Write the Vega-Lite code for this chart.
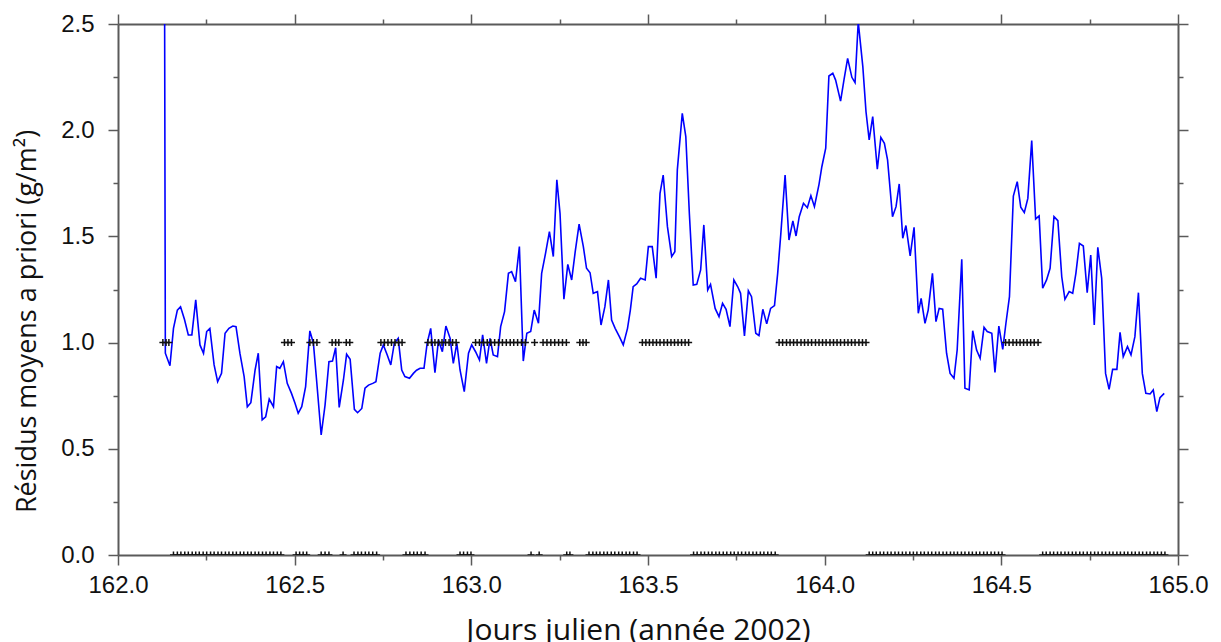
{
"$schema": "https://vega.github.io/schema/vega-lite/v6.json",
"width": 1060, "height": 531,
"autosize": {"type": "none"},
"padding": {"left": 118, "top": 24, "right": 43, "bottom": 87},
"background": "white",
"view": {"stroke": null},
"config": {"font": "Liberation Sans", "axis": {"grid": false, "labelFlush": false, "labelOverlap": false, "domainColor": "#5a5a5a", "domainWidth": 2, "tickColor": "#5a5a5a", "tickWidth": 1.5, "labelColor": "#111", "titleColor": "#111", "titleFontWeight": "normal"}},
"datasets": {
"series": [
{"day":162.132,"residual":2.5},{"day":162.134,"residual":0.950},{"day":162.147,"residual":0.891},{"day":162.157,"residual":1.067},{"day":162.168,"residual":1.153},{"day":162.177,"residual":1.169},{"day":162.188,"residual":1.110},{"day":162.199,"residual":1.036},{"day":162.209,"residual":1.036},{"day":162.220,"residual":1.201},{"day":162.232,"residual":0.989},{"day":162.242,"residual":0.950},{"day":162.251,"residual":1.052},{"day":162.260,"residual":1.067},{"day":162.272,"residual":0.895},{"day":162.282,"residual":0.816},{"day":162.293,"residual":0.855},{"day":162.303,"residual":1.044},{"day":162.314,"residual":1.067},{"day":162.325,"residual":1.078},{"day":162.334,"residual":1.075},{"day":162.345,"residual":0.950},{"day":162.357,"residual":0.840},{"day":162.366,"residual":0.698},{"day":162.376,"residual":0.717},{"day":162.388,"residual":0.871},{"day":162.397,"residual":0.950},{"day":162.408,"residual":0.636},{"day":162.418,"residual":0.651},{"day":162.428,"residual":0.734},{"day":162.440,"residual":0.698},{"day":162.449,"residual":0.887},{"day":162.458,"residual":0.879},{"day":162.468,"residual":0.910},{"day":162.479,"residual":0.808},{"day":162.491,"residual":0.761},{"day":162.501,"residual":0.714},{"day":162.510,"residual":0.667},{"day":162.520,"residual":0.698},{"day":162.531,"residual":0.793},{"day":162.543,"residual":1.055},{"day":162.553,"residual":0.997},{"day":162.562,"residual":0.824},{"day":162.575,"residual":0.565},{"day":162.586,"residual":0.706},{"day":162.597,"residual":0.910},{"day":162.607,"residual":0.913},{"day":162.616,"residual":0.976},{"day":162.626,"residual":0.695},{"day":162.638,"residual":0.824},{"day":162.647,"residual":0.945},{"day":162.657,"residual":0.921},{"day":162.669,"residual":0.686},{"day":162.678,"residual":0.670},{"day":162.690,"residual":0.690},{"day":162.699,"residual":0.785},{"day":162.709,"residual":0.800},{"day":162.721,"residual":0.808},{"day":162.730,"residual":0.816},{"day":162.742,"residual":0.950},{"day":162.751,"residual":0.989},{"day":162.762,"residual":0.942},{"day":162.772,"residual":0.895},{"day":162.782,"residual":0.997},{"day":162.793,"residual":1.020},{"day":162.803,"residual":0.871},{"day":162.812,"residual":0.840},{"day":162.825,"residual":0.832},{"day":162.836,"residual":0.855},{"day":162.845,"residual":0.870},{"day":162.855,"residual":0.879},{"day":162.866,"residual":0.879},{"day":162.875,"residual":0.997},{"day":162.885,"residual":1.067},{"day":162.897,"residual":0.858},{"day":162.907,"residual":1.012},{"day":162.918,"residual":0.957},{"day":162.928,"residual":1.078},{"day":162.940,"residual":1.020},{"day":162.949,"residual":0.902},{"day":162.959,"residual":0.997},{"day":162.968,"residual":0.871},{"day":162.980,"residual":0.769},{"day":162.992,"residual":0.950},{"day":163.001,"residual":0.989},{"day":163.012,"residual":0.957},{"day":163.023,"residual":0.918},{"day":163.032,"residual":1.036},{"day":163.043,"residual":0.902},{"day":163.053,"residual":1.020},{"day":163.062,"residual":0.942},{"day":163.074,"residual":0.934},{"day":163.083,"residual":1.075},{"day":163.094,"residual":1.146},{"day":163.105,"residual":1.326},{"day":163.114,"residual":1.334},{"day":163.125,"residual":1.287},{"day":163.136,"residual":1.452},{"day":163.147,"residual":0.913},{"day":163.157,"residual":1.044},{"day":163.168,"residual":1.052},{"day":163.178,"residual":1.153},{"day":163.190,"residual":1.091},{"day":163.199,"residual":1.326},{"day":163.210,"residual":1.420},{"day":163.221,"residual":1.522},{"day":163.232,"residual":1.405},{"day":163.242,"residual":1.766},{"day":163.251,"residual":1.609},{"day":163.262,"residual":1.204},{"day":163.273,"residual":1.368},{"day":163.284,"residual":1.295},{"day":163.294,"residual":1.428},{"day":163.305,"residual":1.558},{"day":163.317,"residual":1.452},{"day":163.326,"residual":1.350},{"day":163.336,"residual":1.329},{"day":163.345,"residual":1.232},{"day":163.357,"residual":1.240},{"day":163.367,"residual":1.083},{"day":163.378,"residual":1.169},{"day":163.388,"residual":1.295},{"day":163.397,"residual":1.106},{"day":163.407,"residual":1.067},{"day":163.419,"residual":1.028},{"day":163.430,"residual":0.989},{"day":163.442,"residual":1.067},{"day":163.450,"residual":1.153},{"day":163.458,"residual":1.263},{"day":163.468,"residual":1.276},{"day":163.479,"residual":1.303},{"day":163.492,"residual":1.295},{"day":163.501,"residual":1.452},{"day":163.512,"residual":1.452},{"day":163.523,"residual":1.303},{"day":163.534,"residual":1.703},{"day":163.543,"residual":1.789},{"day":163.555,"residual":1.546},{"day":163.567,"residual":1.405},{"day":163.576,"residual":1.428},{"day":163.583,"residual":1.813},{"day":163.597,"residual":2.079},{"day":163.607,"residual":1.970},{"day":163.617,"residual":1.609},{"day":163.628,"residual":1.271},{"day":163.638,"residual":1.274},{"day":163.649,"residual":1.342},{"day":163.658,"residual":1.554},{"day":163.669,"residual":1.248},{"day":163.677,"residual":1.274},{"day":163.690,"residual":1.161},{"day":163.701,"residual":1.122},{"day":163.711,"residual":1.185},{"day":163.721,"residual":1.157},{"day":163.732,"residual":1.075},{"day":163.743,"residual":1.295},{"day":163.754,"residual":1.263},{"day":163.762,"residual":1.232},{"day":163.773,"residual":1.031},{"day":163.784,"residual":1.244},{"day":163.793,"residual":1.216},{"day":163.805,"residual":1.044},{"day":163.814,"residual":1.033},{"day":163.825,"residual":1.157},{"day":163.836,"residual":1.088},{"day":163.847,"residual":1.161},{"day":163.858,"residual":1.174},{"day":163.867,"residual":1.326},{"day":163.876,"residual":1.514},{"day":163.888,"residual":1.789},{"day":163.899,"residual":1.483},{"day":163.910,"residual":1.573},{"day":163.919,"residual":1.502},{"day":163.928,"residual":1.593},{"day":163.940,"residual":1.656},{"day":163.951,"residual":1.635},{"day":163.961,"residual":1.692},{"day":163.971,"residual":1.640},{"day":163.984,"residual":1.745},{"day":163.992,"residual":1.828},{"day":164.003,"residual":1.915},{"day":164.012,"residual":2.255},{"day":164.023,"residual":2.268},{"day":164.031,"residual":2.236},{"day":164.045,"residual":2.137},{"day":164.055,"residual":2.240},{"day":164.065,"residual":2.338},{"day":164.077,"residual":2.249},{"day":164.086,"residual":2.224},{"day":164.095,"residual":2.51},{"day":164.108,"residual":2.299},{"day":164.117,"residual":2.087},{"day":164.126,"residual":1.954},{"day":164.136,"residual":2.064},{"day":164.149,"residual":1.816},{"day":164.159,"residual":1.966},{"day":164.169,"residual":1.938},{"day":164.178,"residual":1.860},{"day":164.192,"residual":1.593},{"day":164.202,"residual":1.640},{"day":164.211,"residual":1.747},{"day":164.221,"residual":1.491},{"day":164.230,"residual":1.551},{"day":164.242,"residual":1.408},{"day":164.253,"residual":1.543},{"day":164.265,"residual":1.138},{"day":164.273,"residual":1.208},{"day":164.284,"residual":1.091},{"day":164.293,"residual":1.153},{"day":164.305,"residual":1.326},{"day":164.315,"residual":1.099},{"day":164.324,"residual":1.161},{"day":164.334,"residual":1.157},{"day":164.345,"residual":0.950},{"day":164.355,"residual":0.855},{"day":164.366,"residual":0.832},{"day":164.375,"residual":0.965},{"day":164.388,"residual":1.392},{"day":164.397,"residual":0.785},{"day":164.409,"residual":0.777},{"day":164.419,"residual":1.056},{"day":164.430,"residual":0.965},{"day":164.440,"residual":0.926},{"day":164.451,"residual":1.072},{"day":164.460,"residual":1.052},{"day":164.473,"residual":1.044},{"day":164.482,"residual":0.860},{"day":164.493,"residual":1.078},{"day":164.504,"residual":0.968},{"day":164.513,"residual":1.091},{"day":164.523,"residual":1.216},{"day":164.534,"residual":1.690},{"day":164.545,"residual":1.758},{"day":164.555,"residual":1.637},{"day":164.565,"residual":1.612},{"day":164.575,"residual":1.679},{"day":164.586,"residual":1.951},{"day":164.597,"residual":1.582},{"day":164.607,"residual":1.596},{"day":164.617,"residual":1.256},{"day":164.628,"residual":1.295},{"day":164.638,"residual":1.350},{"day":164.649,"residual":1.593},{"day":164.660,"residual":1.574},{"day":164.671,"residual":1.310},{"day":164.680,"residual":1.204},{"day":164.692,"residual":1.240},{"day":164.702,"residual":1.232},{"day":164.711,"residual":1.326},{"day":164.721,"residual":1.467},{"day":164.732,"residual":1.455},{"day":164.743,"residual":1.235},{"day":164.753,"residual":1.412},{"day":164.763,"residual":1.083},{"day":164.773,"residual":1.449},{"day":164.784,"residual":1.303},{"day":164.795,"residual":0.855},{"day":164.805,"residual":0.780},{"day":164.815,"residual":0.874},{"day":164.827,"residual":0.874},{"day":164.836,"residual":1.048},{"day":164.845,"residual":0.934},{"day":164.857,"residual":0.981},{"day":164.867,"residual":0.942},{"day":164.878,"residual":1.028},{"day":164.888,"residual":1.235},{"day":164.899,"residual":0.855},{"day":164.909,"residual":0.761},{"day":164.921,"residual":0.758},{"day":164.930,"residual":0.777},{"day":164.940,"residual":0.675},{"day":164.949,"residual":0.741},{"day":164.961,"residual":0.761}
],
"flags": [
{"day":162.127,"flag":1},{"day":162.136,"flag":1},{"day":162.144,"flag":1},
{"day":162.471,"flag":1},{"day":162.481,"flag":1},{"day":162.491,"flag":1},
{"day":162.543,"flag":1},{"day":162.553,"flag":1},{"day":162.563,"flag":1},
{"day":162.606,"flag":1},{"day":162.616,"flag":1},{"day":162.625,"flag":1},
{"day":162.646,"flag":1},{"day":162.656,"flag":1},
{"day":162.744,"flag":1},{"day":162.754,"flag":1},{"day":162.764,"flag":1},{"day":162.774,"flag":1},{"day":162.784,"flag":1},{"day":162.794,"flag":1},{"day":162.804,"flag":1},
{"day":162.877,"flag":1},{"day":162.887,"flag":1},{"day":162.897,"flag":1},{"day":162.907,"flag":1},{"day":162.917,"flag":1},{"day":162.927,"flag":1},{"day":162.937,"flag":1},{"day":162.947,"flag":1},{"day":162.957,"flag":1},
{"day":163.012,"flag":1},{"day":163.023,"flag":1},{"day":163.034,"flag":1},{"day":163.045,"flag":1},{"day":163.055,"flag":1},{"day":163.066,"flag":1},{"day":163.077,"flag":1},{"day":163.088,"flag":1},{"day":163.099,"flag":1},{"day":163.110,"flag":1},{"day":163.120,"flag":1},{"day":163.131,"flag":1},{"day":163.142,"flag":1},{"day":163.153,"flag":1},
{"day":163.179,"flag":1},
{"day":163.203,"flag":1},{"day":163.214,"flag":1},{"day":163.225,"flag":1},{"day":163.236,"flag":1},{"day":163.247,"flag":1},{"day":163.258,"flag":1},{"day":163.269,"flag":1},
{"day":163.307,"flag":1},{"day":163.316,"flag":1},{"day":163.325,"flag":1},
{"day":163.484,"flag":1},{"day":163.494,"flag":1},{"day":163.504,"flag":1},{"day":163.514,"flag":1},{"day":163.524,"flag":1},{"day":163.534,"flag":1},{"day":163.545,"flag":1},{"day":163.555,"flag":1},{"day":163.565,"flag":1},{"day":163.575,"flag":1},{"day":163.585,"flag":1},{"day":163.595,"flag":1},{"day":163.605,"flag":1},{"day":163.615,"flag":1},
{"day":163.871,"flag":1},{"day":163.881,"flag":1},{"day":163.892,"flag":1},{"day":163.902,"flag":1},{"day":163.912,"flag":1},{"day":163.922,"flag":1},{"day":163.933,"flag":1},{"day":163.943,"flag":1},{"day":163.953,"flag":1},{"day":163.963,"flag":1},{"day":163.974,"flag":1},{"day":163.984,"flag":1},{"day":163.994,"flag":1},{"day":164.004,"flag":1},{"day":164.015,"flag":1},{"day":164.025,"flag":1},{"day":164.035,"flag":1},{"day":164.045,"flag":1},{"day":164.056,"flag":1},{"day":164.066,"flag":1},{"day":164.076,"flag":1},{"day":164.086,"flag":1},{"day":164.097,"flag":1},{"day":164.107,"flag":1},{"day":164.117,"flag":1},
{"day":164.512,"flag":1},{"day":164.522,"flag":1},{"day":164.533,"flag":1},{"day":164.543,"flag":1},{"day":164.553,"flag":1},{"day":164.563,"flag":1},{"day":164.573,"flag":1},{"day":164.583,"flag":1},{"day":164.593,"flag":1},{"day":164.604,"flag":1},
{"day":162.157,"flag":0},{"day":162.168,"flag":0},{"day":162.178,"flag":0},{"day":162.189,"flag":0},{"day":162.199,"flag":0},{"day":162.210,"flag":0},{"day":162.220,"flag":0},{"day":162.230,"flag":0},{"day":162.241,"flag":0},{"day":162.251,"flag":0},{"day":162.262,"flag":0},{"day":162.272,"flag":0},{"day":162.283,"flag":0},{"day":162.293,"flag":0},{"day":162.304,"flag":0},{"day":162.314,"flag":0},{"day":162.325,"flag":0},{"day":162.335,"flag":0},{"day":162.346,"flag":0},{"day":162.356,"flag":0},{"day":162.367,"flag":0},{"day":162.377,"flag":0},{"day":162.388,"flag":0},{"day":162.398,"flag":0},{"day":162.409,"flag":0},{"day":162.419,"flag":0},{"day":162.430,"flag":0},{"day":162.440,"flag":0},{"day":162.451,"flag":0},{"day":162.461,"flag":0},
{"day":162.504,"flag":0},{"day":162.514,"flag":0},{"day":162.524,"flag":0},{"day":162.534,"flag":0},
{"day":162.575,"flag":0},{"day":162.586,"flag":0},{"day":162.597,"flag":0},
{"day":162.637,"flag":0},
{"day":162.668,"flag":0},{"day":162.679,"flag":0},{"day":162.689,"flag":0},{"day":162.700,"flag":0},{"day":162.710,"flag":0},{"day":162.721,"flag":0},{"day":162.732,"flag":0},
{"day":162.815,"flag":0},{"day":162.826,"flag":0},{"day":162.837,"flag":0},{"day":162.847,"flag":0},{"day":162.858,"flag":0},{"day":162.869,"flag":0},
{"day":162.968,"flag":0},{"day":162.978,"flag":0},{"day":162.989,"flag":0},{"day":162.999,"flag":0},
{"day":163.169,"flag":0},{"day":163.192,"flag":0},
{"day":163.270,"flag":0},{"day":163.279,"flag":0},
{"day":163.333,"flag":0},{"day":163.344,"flag":0},{"day":163.354,"flag":0},{"day":163.364,"flag":0},{"day":163.375,"flag":0},{"day":163.385,"flag":0},{"day":163.396,"flag":0},{"day":163.406,"flag":0},{"day":163.417,"flag":0},{"day":163.427,"flag":0},{"day":163.438,"flag":0},{"day":163.448,"flag":0},{"day":163.459,"flag":0},{"day":163.469,"flag":0},
{"day":163.629,"flag":0},{"day":163.639,"flag":0},{"day":163.650,"flag":0},{"day":163.660,"flag":0},{"day":163.671,"flag":0},{"day":163.681,"flag":0},{"day":163.692,"flag":0},{"day":163.702,"flag":0},{"day":163.713,"flag":0},{"day":163.723,"flag":0},{"day":163.734,"flag":0},{"day":163.744,"flag":0},{"day":163.755,"flag":0},{"day":163.765,"flag":0},{"day":163.776,"flag":0},{"day":163.786,"flag":0},{"day":163.797,"flag":0},{"day":163.807,"flag":0},{"day":163.818,"flag":0},{"day":163.828,"flag":0},{"day":163.839,"flag":0},{"day":163.849,"flag":0},{"day":163.860,"flag":0},
{"day":164.126,"flag":0},{"day":164.136,"flag":0},{"day":164.146,"flag":0},{"day":164.157,"flag":0},{"day":164.167,"flag":0},{"day":164.178,"flag":0},{"day":164.188,"flag":0},{"day":164.199,"flag":0},{"day":164.209,"flag":0},{"day":164.220,"flag":0},{"day":164.230,"flag":0},{"day":164.241,"flag":0},{"day":164.251,"flag":0},{"day":164.261,"flag":0},{"day":164.272,"flag":0},{"day":164.282,"flag":0},{"day":164.293,"flag":0},{"day":164.303,"flag":0},{"day":164.314,"flag":0},{"day":164.324,"flag":0},{"day":164.335,"flag":0},{"day":164.345,"flag":0},{"day":164.356,"flag":0},{"day":164.366,"flag":0},{"day":164.376,"flag":0},{"day":164.387,"flag":0},{"day":164.397,"flag":0},{"day":164.408,"flag":0},{"day":164.418,"flag":0},{"day":164.429,"flag":0},{"day":164.439,"flag":0},{"day":164.450,"flag":0},{"day":164.460,"flag":0},{"day":164.471,"flag":0},{"day":164.481,"flag":0},{"day":164.492,"flag":0},{"day":164.502,"flag":0},
{"day":164.617,"flag":0},{"day":164.627,"flag":0},{"day":164.638,"flag":0},{"day":164.648,"flag":0},{"day":164.659,"flag":0},{"day":164.669,"flag":0},{"day":164.680,"flag":0},{"day":164.690,"flag":0},{"day":164.701,"flag":0},{"day":164.711,"flag":0},{"day":164.722,"flag":0},{"day":164.732,"flag":0},{"day":164.743,"flag":0},{"day":164.753,"flag":0},{"day":164.764,"flag":0},{"day":164.774,"flag":0},{"day":164.785,"flag":0},{"day":164.795,"flag":0},{"day":164.806,"flag":0},{"day":164.816,"flag":0},{"day":164.827,"flag":0},{"day":164.837,"flag":0},{"day":164.848,"flag":0},{"day":164.858,"flag":0},{"day":164.869,"flag":0},{"day":164.879,"flag":0},{"day":164.890,"flag":0},{"day":164.900,"flag":0},{"day":164.911,"flag":0},{"day":164.921,"flag":0},{"day":164.932,"flag":0},{"day":164.942,"flag":0},{"day":164.953,"flag":0},{"day":164.963,"flag":0}
]
},
"layer": [
{"data": {"name": "series"},
 "mark": {"type": "line", "color": "#0000ff", "strokeWidth": 1.6, "clip": true},
 "encoding": {
  "x": {"field": "day", "type": "quantitative", "scale": {"domain": [162, 165], "nice": false, "zero": false},
   "axis": {"orient": "bottom", "values": [162,162.25,162.5,162.75,163,163.25,163.5,163.75,164,164.25,164.5,164.75,165],
    "tickSize": {"condition": {"test": "datum.value % 0.5 === 0", "value": 10}, "value": 5},
    "labelExpr": "datum.value % 0.5 === 0 ? format(datum.value, '.1f') : ''",
    "labelFontSize": 24, "labelPadding": 8,
    "title": "Jours julien (année 2002)", "titleFont": "Open Sans", "titleFontSize": 30, "titlePadding": 18, "titleX": 520}},
  "y": {"field": "residual", "type": "quantitative", "scale": {"domain": [0, 2.5], "nice": false, "zero": false},
   "axis": {"orient": "left", "values": [0,0.25,0.5,0.75,1,1.25,1.5,1.75,2,2.25,2.5],
    "tickSize": {"condition": {"test": "datum.value % 0.5 === 0", "value": 10}, "value": 5},
    "labelExpr": "datum.value % 0.5 === 0 ? format(datum.value, '.1f') : ''",
    "labelFontSize": 24, "labelPadding": 14,
    "title": "Résidus moyens a priori (g/m²)", "titleFont": "Open Sans", "titleFontSize": 27, "titlePadding": 19, "titleY": 297}}
 }},
{"data": {"name": "flags"},
 "mark": {"type": "point", "shape": "M-1,0H1M0,-1V1", "filled": false, "stroke": "#111", "strokeWidth": 1.5, "size": 49, "opacity": 1, "clip": true},
 "encoding": {
  "x": {"field": "day", "type": "quantitative",
   "axis": {"orient": "top", "values": [162,162.25,162.5,162.75,163,163.25,163.5,163.75,164,164.25,164.5,164.75,165],
    "tickSize": {"condition": {"test": "datum.value % 0.5 === 0", "value": 10}, "value": 5},
    "labels": false, "title": null}},
  "y": {"field": "flag", "type": "quantitative",
   "axis": {"orient": "right", "values": [0,0.25,0.5,0.75,1,1.25,1.5,1.75,2,2.25,2.5],
    "tickSize": {"condition": {"test": "datum.value % 0.5 === 0", "value": 10}, "value": 5},
    "labels": false, "title": null}}
 }}
],
"resolve": {"axis": {"x": "independent", "y": "independent"}}
}
